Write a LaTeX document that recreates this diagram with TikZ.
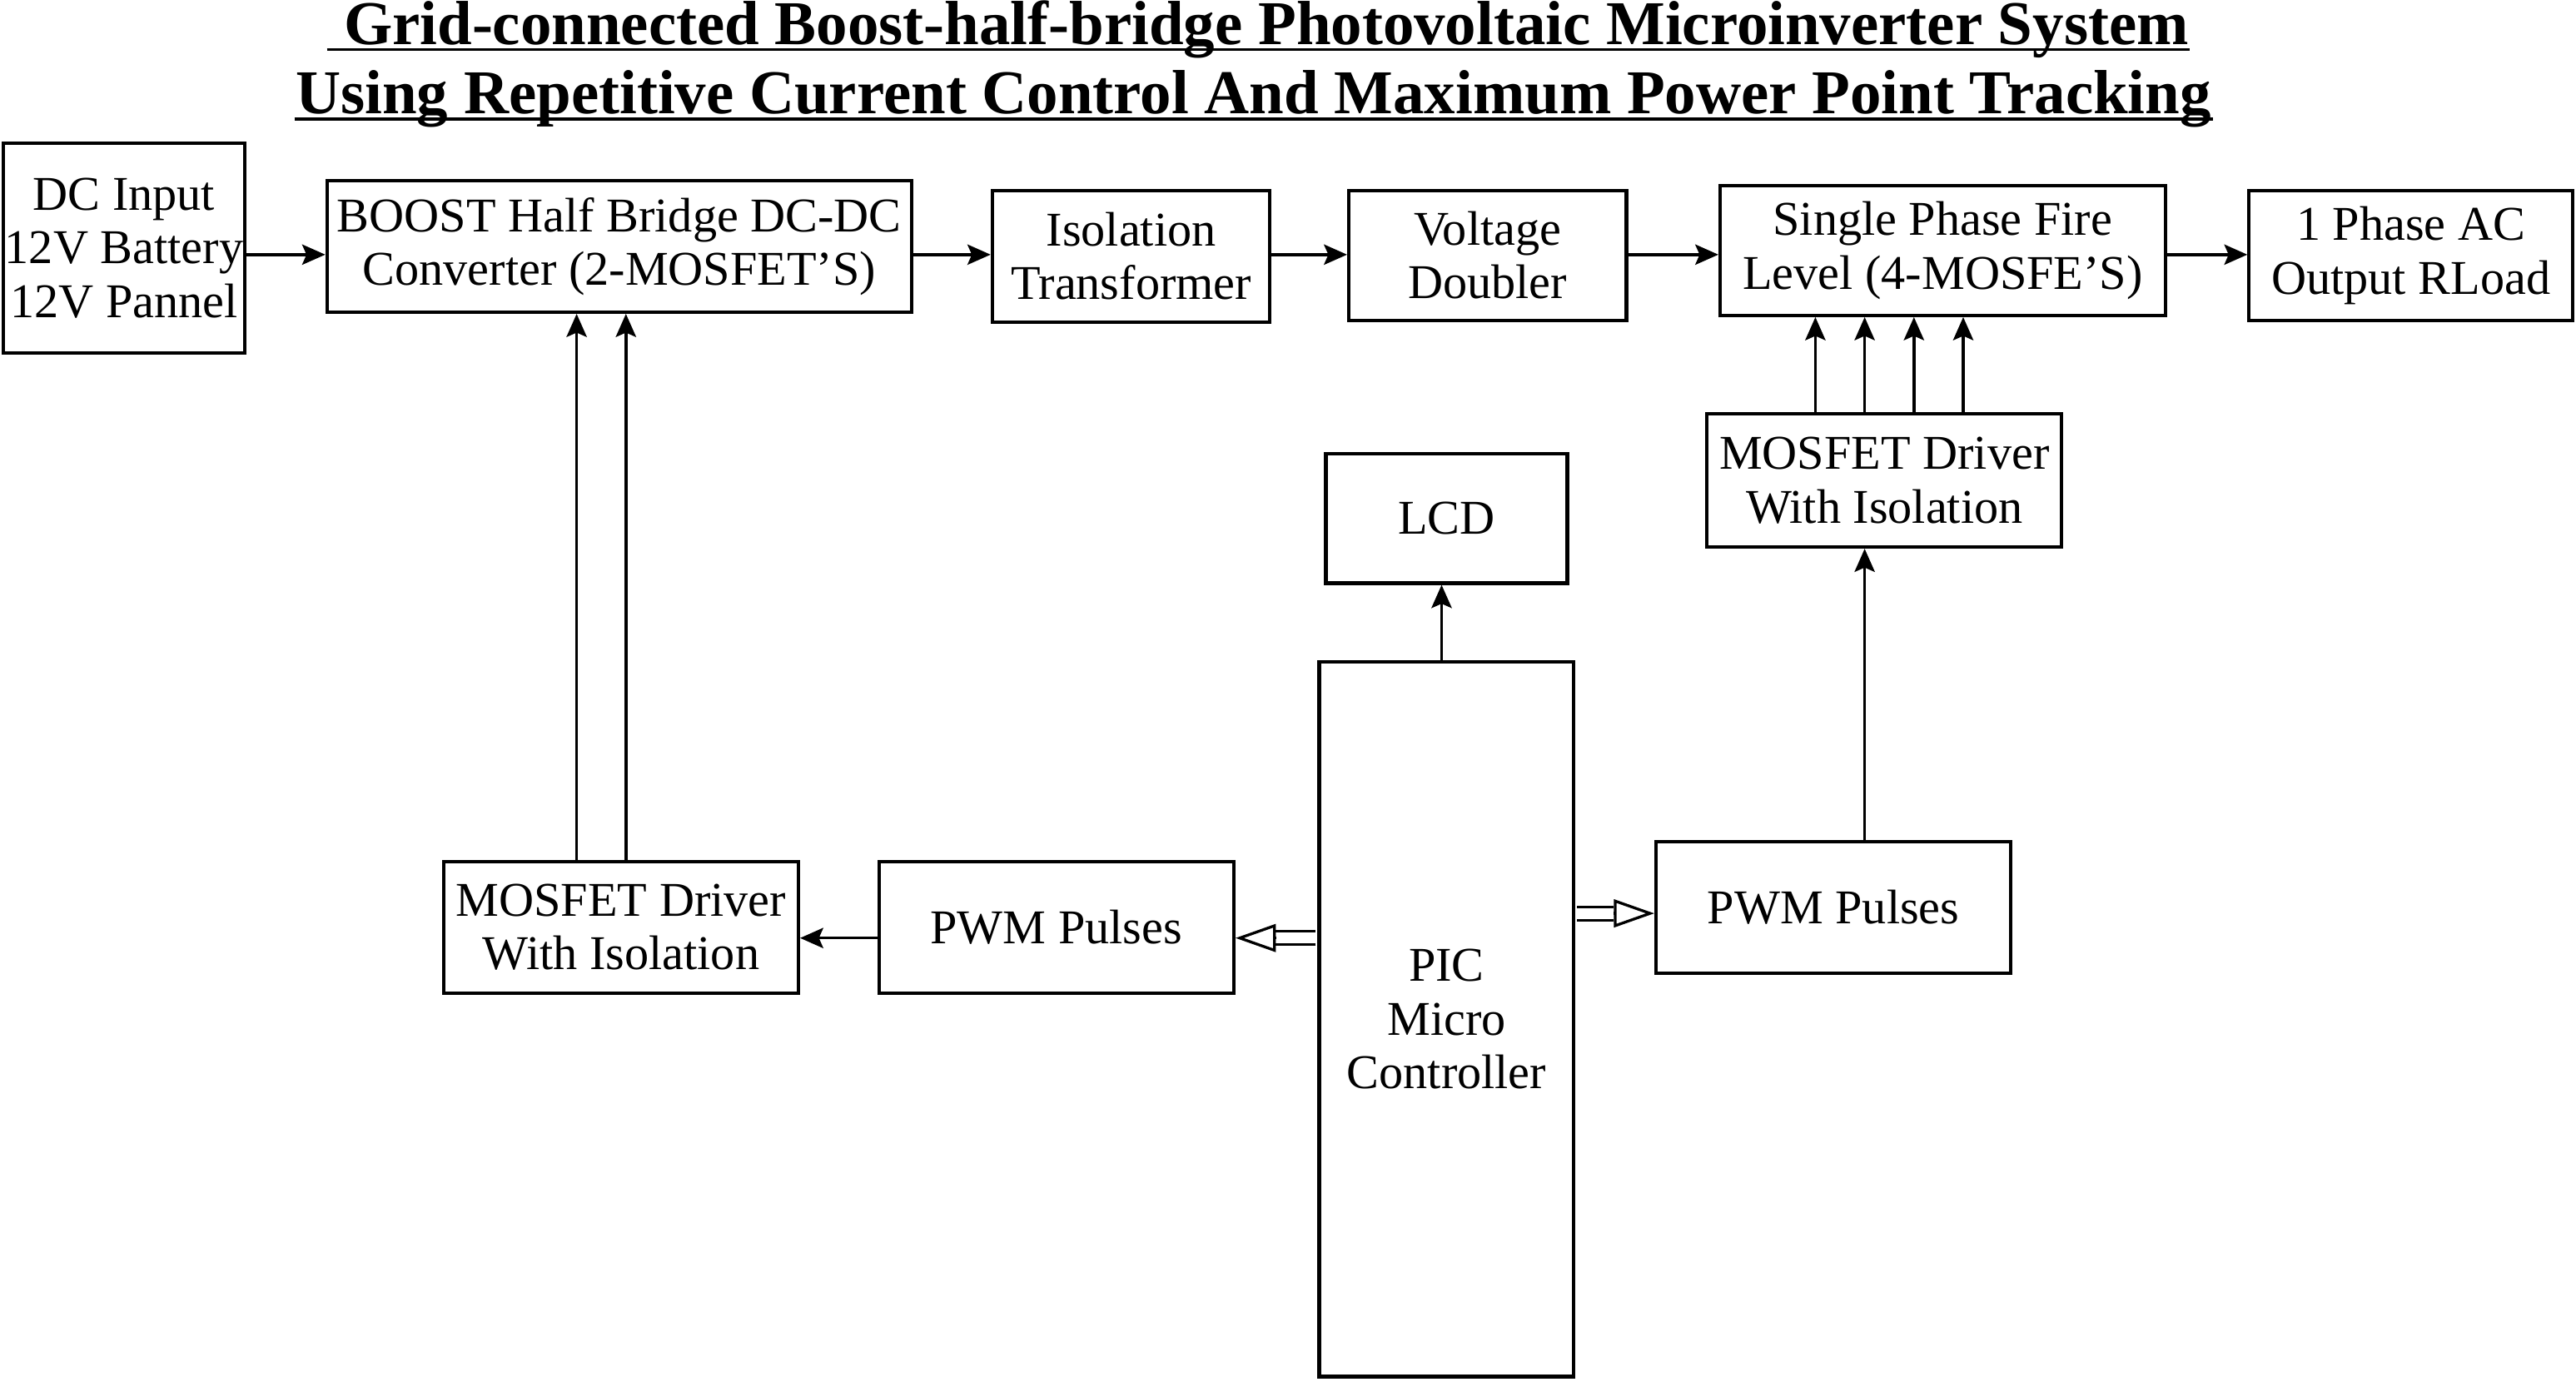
\documentclass[tikz,border=0pt]{standalone}
\usepackage{fontspec}
\setmainfont{Liberation Serif}
\usetikzlibrary{arrows.meta}

\def\boxfont{\fontsize{16.8}{18.6}\selectfont}
\def\titlefont{\fontsize{21.6}{24}\selectfont\bfseries}

\begin{document}
\begin{tikzpicture}[->, >={Stealth[length=8pt,width=7pt,inset=1.5pt]}, line width=1pt, x=0.02cm, y=-0.02cm]
    \tikzstyle{block}=[draw, line width=1.2pt, align=center, inner sep=0pt, font=\boxfont]
    \tikzstyle{small block}=[block, minimum width=4.32cm, minimum height=1.6cm]
    \tikzstyle{hollow}=[-, double, double distance=3.8pt, line width=0.85pt, shorten <=0.6pt, shorten >=14pt]
    \tikzstyle{hollow head}=[line width=0.95pt, -{Triangle[open,length=14pt,width=9.6pt]}]
    \useasboundingbox (0,0) rectangle (1568,841);

    % Title
    \node[anchor=base, inner sep=0pt, font=\titlefont] (t1) at (766,27) {\ Grid-connected Boost-half-bridge Photovoltaic Microinverter System\ };
    \node[anchor=base, inner sep=0pt, font=\titlefont] (t2) at (763,69.2) {Using Repetitive Current Control And Maximum Power Point Tracking};
    \draw[-, line width=1pt] ([yshift=-1.8pt]t1.base west) -- ([yshift=-1.8pt]t1.base east);
    \draw[-, line width=1pt] ([yshift=-1.8pt]t2.base west) -- ([yshift=-1.8pt]t2.base east);

    % Draw the power stage blocks
    \node[block, minimum width=2.94cm, minimum height=2.56cm] (dc) at (75.5,151) {DC Input\\12V Battery\\12V Pannel};
    \node[block, minimum width=7.12cm, minimum height=1.6cm] (boost) at (377,150) {BOOST Half Bridge DC-DC\\Converter (2-MOSFET’S)};
    \node[block, minimum width=3.38cm, minimum height=1.6cm] (iso) at (688.5,156) {Isolation\\Transformer};
    \node[block, minimum width=3.38cm, minimum height=1.58cm] (vd) at (905.5,155.5) {Voltage\\Doubler};
    \node[block, minimum width=5.42cm, minimum height=1.58cm] (spfl) at (1182.5,152.5) {Single Phase Fire\\Level (4-MOSFE’S)};
    \node[block, minimum width=3.94cm, minimum height=1.58cm] (acout) at (1467.5,155.5) {1 Phase AC\\Output RLoad};

    % Draw the control blocks
    \node[small block, minimum height=1.62cm] (drvR) at (1147,292.5) {MOSFET Driver\\With Isolation};
    \node[block, minimum width=2.94cm, minimum height=1.58cm] (lcd) at (880.5,315.5) {LCD};
    \node[block, minimum width=3.1cm, minimum height=8.7cm] (pic) at (880.5,620.5) {PIC\\Micro\\Controller};
    \node[small block] (pwmR) at (1116,552.5) {PWM Pulses};
    \node[small block] (pwmL) at (643,564.5) {PWM Pulses};
    \node[small block] (drvL) at (378,564.5) {MOSFET Driver\\With Isolation};

    % Connect the power stage from left to right
    \coordinate (row) at (0,155);
    \draw (dc.east |- row) -- (boost.west |- row);
    \foreach \a/\b in {boost/iso, iso/vd, vd/spfl, spfl/acout}
        \draw (\a.east |- row) -- (\b.west |- row);

    % Gate signals from the drivers
    \foreach \dx in {-27,3}
        \draw ([xshift=\dx*0.02cm]drvL.north) -- ([xshift=\dx*0.02cm]drvL.north |- boost.south);
    \foreach \dx in {-42,-12,18,48}
        \draw ([xshift=\dx*0.02cm]drvR.north) -- ([xshift=\dx*0.02cm]drvR.north |- spfl.south);

    % Controller outputs
    \coordinate (lsig) at (0,571);
    \coordinate (rsig) at (0,556);
    \draw ([xshift=-3*0.02cm]pic.north) -- ([xshift=-3*0.02cm]pic.north |- lcd.south);
    \draw[hollow] (pic.east |- rsig) -- (pwmR.west |- rsig);
    \draw[hollow head] ([xshift=-14pt]pwmR.west |- rsig) -- (pwmR.west |- rsig);
    \draw[hollow] (pic.west |- lsig) -- (pwmL.east |- lsig);
    \draw[hollow head] ([xshift=14pt]pwmL.east |- lsig) -- (pwmL.east |- lsig);
    \draw ([xshift=-12*0.02cm]drvR.south |- pwmR.north) -- ([xshift=-12*0.02cm]drvR.south);
    \draw (pwmL.west |- lsig) -- (drvL.east |- lsig);
\end{tikzpicture}
\end{document}
